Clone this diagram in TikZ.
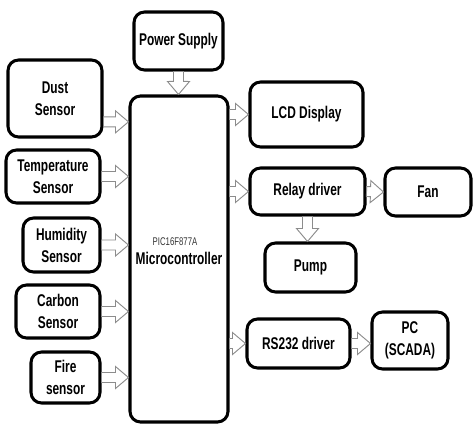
\documentclass[tikz,border=0pt]{standalone}
\usepackage{fontspec}
\newfontfamily\narrowsf{Liberation Sans}[FakeStretch=0.7]
\usetikzlibrary{calc}

\begin{document}
\begin{tikzpicture}[
  x=0.03cm, y=-0.03cm,
  every node/.style={font=\narrowsf\bfseries\fontsize{14.5}{18.8}\selectfont},
  block/.style={draw,line width=2.6pt,rounded corners=9pt,align=center,inner sep=0pt},
  chip/.style={font=\narrowsf\fontsize{9.5}{11}\selectfont,text=black!80},
  hollow/.style={draw=gray!90,line width=0.8pt,fill=white,
    to path={($(\tikztostart)!0.15cm!90:(\tikztotarget)$)
      -- ($(\tikztotarget)!0.4179cm!-21.04:(\tikztostart)$)
      -- ($(\tikztotarget)!0.5109cm!-40.24:(\tikztostart)$)
      -- (\tikztotarget)
      -- ($(\tikztotarget)!0.5109cm!40.24:(\tikztostart)$)
      -- ($(\tikztotarget)!0.4179cm!21.04:(\tikztostart)$)
      -- ($(\tikztostart)!0.15cm!-90:(\tikztotarget)$) -- cycle}}
]
  \useasboundingbox (0,0) rectangle (474,425);

  % controller and supply
  \node[block,minimum width=2.94cm,minimum height=9.78cm] (mcu) at (179,259) {};
  \node[chip] (mcuchip) at (175,242) {PIC16F877A};
  \node (mcuname) at (179,258) {Microcontroller};
  \node[block,minimum width=2.67cm,minimum height=1.74cm] (psu) at (178.5,41) {Power Supply};

  % sensors
  \node[block,minimum width=2.82cm,minimum height=2.31cm] (dust) at (55,98.5) {Dust\\Sensor};
  \node[block,minimum width=2.82cm,minimum height=1.59cm] (temp) at (53,176.5) {Temperature\\Sensor};
  \node[block,minimum width=2.31cm,minimum height=1.62cm] (humid) at (61.5,245) {Humidity\\Sensor};
  \node[block,minimum width=2.52cm,minimum height=1.59cm] (carbon) at (58,311.5) {Carbon\\Sensor};
  \node[block,minimum width=2.07cm,minimum height=1.53cm] (fire) at (65.5,377.5) {Fire\\sensor};

  % outputs
  \node[block,minimum width=3.39cm,minimum height=1.95cm] (lcd) at (306.5,114.5) {LCD Display};
  \node[block,minimum width=3.45cm,minimum height=1.41cm] (relay) at (307.5,191.5) {Relay driver};
  \node[block,minimum width=2.58cm,minimum height=1.44cm] (fan) at (428,192) {Fan};
  \node[block,minimum width=2.73cm,minimum height=1.47cm] (pump) at (310.5,267.5) {Pump};
  \node[block,minimum width=3.09cm,minimum height=1.47cm] (rs) at (298.5,343.5) {RS232 driver};
  \node[block,minimum width=2.28cm,minimum height=1.71cm] (pc) at (410,340.5) {PC\\(SCADA)};

  \coordinate (dustport) at ([yshift=-0.7cm]dust.east);

  \draw[hollow] (psu.south) to (psu.south |- mcu.north);
  \draw[hollow] (dustport) to (dustport -| mcu.west);
  \foreach \s in {temp,humid,carbon,fire}
    \draw[hollow] (\s.east) to (\s.east -| mcu.west);
  \foreach \o in {lcd,relay,rs}
    \draw[hollow] (mcu.east |- \o.west) to (\o.west);
  \draw[hollow] (relay.east) to (fan.west);
  \draw[hollow] (relay.south) to (relay.south |- pump.north);
  \draw[hollow] (rs.east) to (rs.east -| pc.west);
\end{tikzpicture}
\end{document}
